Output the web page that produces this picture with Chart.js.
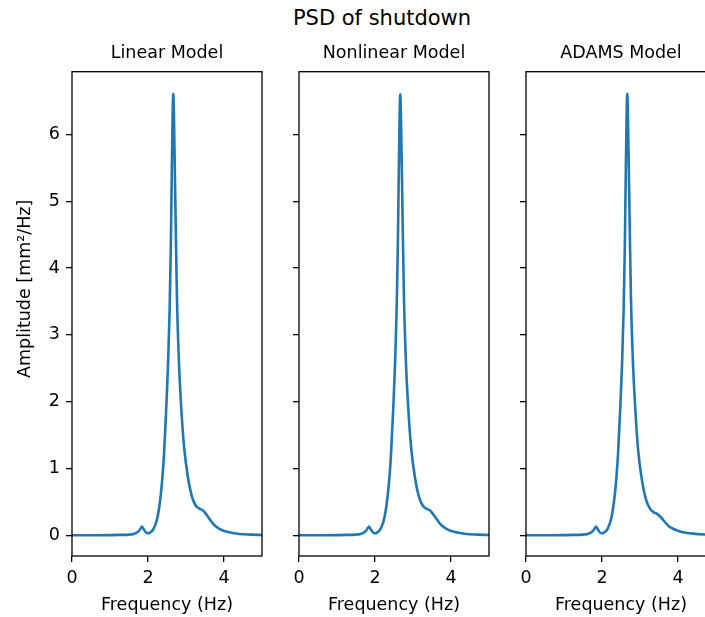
<!DOCTYPE html>
<html>
<head>
<meta charset="utf-8">
<script src="https://cdn.jsdelivr.net/npm/chart.js@4/dist/chart.umd.min.js"></script>
<style>
  html, body { margin: 0; padding: 0; background: #fff; overflow: hidden; }
  body { position: relative; width: 705px; height: 617px; }
  canvas { position: absolute; top: 0; }
  #suptitle {
    position: absolute; left: 0; width: 764px; top: 6px;
    text-align: center; font: 21px "DejaVu Sans"; color: #000;
  }
</style>
</head>
<body>
<div id="suptitle">PSD of shutdown</div>
<canvas id="linear" width="272" height="617" style="left:0px;width:272px;height:617px"></canvas>
<canvas id="nonlinear" width="230" height="617" style="left:269px;width:230px;height:617px"></canvas>
<canvas id="adams" width="230" height="617" style="left:496px;width:230px;height:617px"></canvas>
<script>
// frequency points (Hz) shared by all three spectra
const freq = [0, 0.5, 1.0, 1.3, 1.5, 1.62, 1.72, 1.78, 1.84, 1.9, 1.95, 2.0, 2.05, 2.15, 2.25,
    2.35, 2.42, 2.48, 2.53, 2.57, 2.6, 2.63, 2.665, 2.7, 2.73, 2.76, 2.81, 2.87, 2.95, 3.05,
    3.15, 3.25, 3.35, 3.45, 3.55, 3.65, 3.75, 3.9, 4.1, 4.4, 4.7, 5.0];

// amplitude (mm^2/Hz)
const linearAmp = [0.0, 0.001, 0.003, 0.006, 0.01, 0.02, 0.045, 0.08, 0.13, 0.08, 0.04, 0.03, 0.04, 0.10, 0.27,
    0.68, 1.2, 1.9, 2.6, 3.4, 4.3, 5.6, 6.61, 5.7, 4.6, 3.6, 2.65, 1.95, 1.32, 0.87,
    0.59, 0.45, 0.40, 0.37, 0.30, 0.22, 0.15, 0.09, 0.05, 0.02, 0.01, 0.005];
const nonlinearAmp = [0.0, 0.001, 0.003, 0.006, 0.01, 0.02, 0.045, 0.08, 0.13, 0.08, 0.04, 0.03, 0.04, 0.10, 0.27,
    0.68, 1.2, 1.9, 2.6, 3.4, 4.3, 5.6, 6.60, 5.7, 4.6, 3.6, 2.65, 1.95, 1.32, 0.87,
    0.59, 0.45, 0.40, 0.37, 0.30, 0.22, 0.15, 0.09, 0.05, 0.02, 0.01, 0.005];
const adamsAmp = [0.0, 0.001, 0.003, 0.006, 0.01, 0.02, 0.045, 0.08, 0.13, 0.08, 0.04, 0.03, 0.04, 0.10, 0.27,
    0.68, 1.2, 1.9, 2.6, 3.4, 4.3, 5.6, 6.61, 5.7, 4.6, 3.6, 2.65, 1.95, 1.28, 0.83,
    0.55, 0.41, 0.35, 0.32, 0.27, 0.20, 0.14, 0.09, 0.05, 0.025, 0.012, 0.006];

const xTicks = [0, 2, 4];
const yTicks = [0, 1, 2, 3, 4, 5, 6];

Chart.defaults.font.family = 'DejaVu Sans';
Chart.defaults.color = '#000';

// draw the full box around each axes, like matplotlib spines
const framePlugin = {
    id: 'frame',
    afterDraw(chart) {
        const { ctx, chartArea: a } = chart;
        ctx.save();
        ctx.strokeStyle = '#000';
        ctx.lineWidth = 1.3;
        ctx.strokeRect(a.left, a.top, a.right - a.left, a.bottom - a.top);
        ctx.restore();
    }
};

function makePanel(id, title, amps, firstPanel) {
    const axisWidth = firstPanel ? 72 : 30;
    const ctx = document.getElementById(id).getContext('2d');
    new Chart(ctx, {
        type: 'line',
        data: {
            datasets: [{
                data: freq.map((f, i) => ({ x: f, y: amps[i] })),
                borderColor: '#1f77b4',
                borderWidth: 2.6,
                pointRadius: 0,
                cubicInterpolationMode: 'monotone',
                fill: false
            }]
        },
        options: {
            responsive: false,
            animation: false,
            layout: { padding: { top: 0, right: 10, bottom: 0, left: 0 } },
            plugins: {
                legend: { display: false },
                tooltip: { enabled: false },
                title: {
                    display: true,
                    fullSize: false, // centre over the plot area, not the canvas
                    text: title,
                    font: { size: 17.5, weight: 'normal' },
                    color: '#000',
                    padding: { top: 42.5, bottom: 8.2 }
                }
            },
            scales: {
                x: {
                    type: 'linear',
                    min: 0,
                    max: 5,
                    afterBuildTicks: scale => { scale.ticks = xTicks.map(v => ({ value: v })); },
                    afterFit: scale => { scale.height = 61; },
                    grid: { drawOnChartArea: false, drawTicks: true, tickLength: 6, color: '#000', lineWidth: 1.3 },
                    border: { display: false },
                    ticks: { font: { size: 17.5 }, color: '#000', padding: 6, maxRotation: 0, autoSkip: false },
                    title: {
                        display: true,
                        text: 'Frequency (Hz)',
                        font: { size: 17.5 },
                        color: '#000',
                        padding: { top: 0, bottom: 1.5 }
                    }
                },
                y: {
                    type: 'linear',
                    min: -0.31,
                    max: 6.94,
                    afterBuildTicks: scale => { scale.ticks = yTicks.map(v => ({ value: v })); },
                    afterFit: scale => { scale.width = axisWidth; },
                    grid: { drawOnChartArea: false, drawTicks: true, tickLength: 6, color: '#000', lineWidth: 1.3 },
                    border: { display: false },
                    ticks: {
                        font: { size: 17.5 },
                        color: firstPanel ? '#000' : 'rgba(0,0,0,0)',
                        padding: 6
                    },
                    title: {
                        display: firstPanel,
                        text: '         Amplitude [mm²/Hz]',
                        font: { size: 17.5 },
                        color: '#000',
                        padding: { top: 14.5, bottom: 0 }
                    }
                }
            }
        },
        plugins: [framePlugin]
    });
}

makePanel('linear', 'Linear Model', linearAmp, true);
makePanel('nonlinear', 'Nonlinear Model', nonlinearAmp, false);
makePanel('adams', 'ADAMS Model', adamsAmp, false);
</script>
</body>
</html>
